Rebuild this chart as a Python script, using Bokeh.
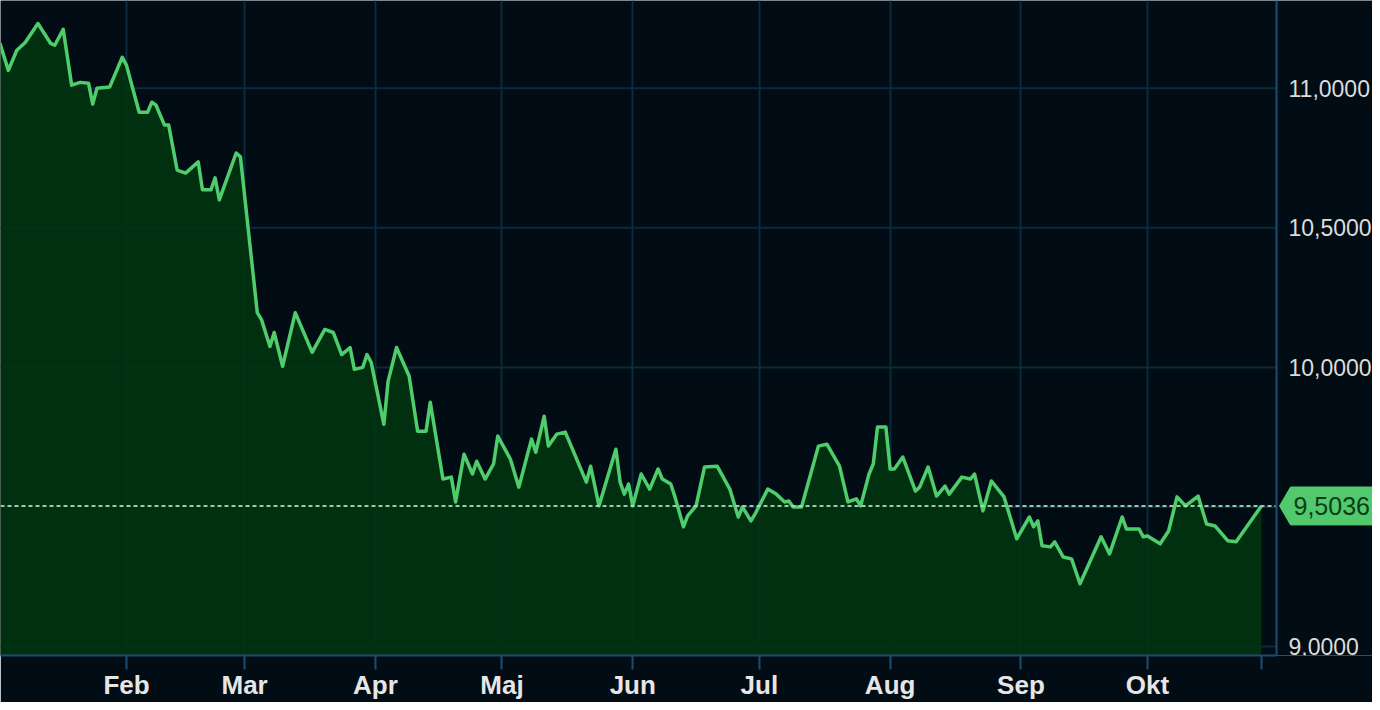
import pandas as pd
from bokeh.plotting import figure
from bokeh.models import FixedTicker, CustomJSTickFormatter, Span
from bokeh.embed import file_html
from bokeh.resources import INLINE
from bokeh.core.properties import value

# ---------------- data ----------------
dates = [
    "2025-01-02", "2025-01-04", "2025-01-06", "2025-01-08", "2025-01-11", "2025-01-14",
    "2025-01-15", "2025-01-17", "2025-01-19", "2025-01-21", "2025-01-23", "2025-01-24",
    "2025-01-25", "2025-01-28", "2025-01-31",
    "2025-02-01", "2025-02-04", "2025-02-06", "2025-02-07", "2025-02-08", "2025-02-10",
    "2025-02-11", "2025-02-13", "2025-02-15", "2025-02-18", "2025-02-19", "2025-02-21",
    "2025-02-22", "2025-02-23", "2025-02-27", "2025-02-28",
    "2025-03-04", "2025-03-05", "2025-03-07", "2025-03-08", "2025-03-10", "2025-03-13",
    "2025-03-17", "2025-03-20", "2025-03-22", "2025-03-24", "2025-03-26", "2025-03-27",
    "2025-03-29", "2025-03-30", "2025-03-31",
    "2025-04-03", "2025-04-04", "2025-04-06", "2025-04-09", "2025-04-11", "2025-04-13",
    "2025-04-14", "2025-04-17", "2025-04-19", "2025-04-20", "2025-04-22", "2025-04-24",
    "2025-04-25", "2025-04-27", "2025-04-29", "2025-04-30",
    "2025-05-03", "2025-05-05", "2025-05-08", "2025-05-09", "2025-05-11", "2025-05-12",
    "2025-05-14", "2025-05-16", "2025-05-21", "2025-05-22", "2025-05-24", "2025-05-28",
    "2025-05-29", "2025-05-30", "2025-05-31",
    "2025-06-01", "2025-06-03", "2025-06-05", "2025-06-07", "2025-06-08", "2025-06-10",
    "2025-06-11", "2025-06-13", "2025-06-14", "2025-06-16", "2025-06-18", "2025-06-21",
    "2025-06-24", "2025-06-26", "2025-06-27", "2025-06-29", "2025-06-30",
    "2025-07-03", "2025-07-05", "2025-07-07", "2025-07-08", "2025-07-09", "2025-07-11",
    "2025-07-15", "2025-07-17", "2025-07-20", "2025-07-22", "2025-07-24", "2025-07-25",
    "2025-07-27", "2025-07-28", "2025-07-29", "2025-07-31",
    "2025-08-01", "2025-08-02", "2025-08-04", "2025-08-07", "2025-08-08", "2025-08-10",
    "2025-08-12", "2025-08-14", "2025-08-15", "2025-08-18", "2025-08-20", "2025-08-21",
    "2025-08-23", "2025-08-25", "2025-08-28", "2025-08-31",
    "2025-09-03", "2025-09-04", "2025-09-05", "2025-09-06", "2025-09-08", "2025-09-09",
    "2025-09-11", "2025-09-13", "2025-09-15", "2025-09-20", "2025-09-22", "2025-09-25",
    "2025-09-26", "2025-09-29", "2025-09-30",
    "2025-10-01", "2025-10-04", "2025-10-06", "2025-10-08", "2025-10-10", "2025-10-13",
    "2025-10-15", "2025-10-17", "2025-10-20", "2025-10-22", "2025-10-28",
]
values = [
    11.161, 11.064, 11.136, 11.164, 11.232, 11.161, 11.154, 11.211, 11.011, 11.021,
    11.018, 10.943, 11.000, 11.004, 11.111,
    11.082, 10.914, 10.914, 10.950, 10.939, 10.868, 10.868, 10.707, 10.696, 10.736,
    10.636, 10.636, 10.679, 10.600, 10.768, 10.754,
    10.196, 10.171, 10.075, 10.125, 10.004, 10.196, 10.054, 10.136, 10.125, 10.046,
    10.071, 9.993, 10.000, 10.046, 10.018,
    9.796, 9.950, 10.071, 9.968, 9.771, 9.771, 9.875, 9.600, 9.607, 9.518,
    9.689, 9.618, 9.664, 9.600, 9.654, 9.754,
    9.671, 9.571, 9.743, 9.696, 9.825, 9.718, 9.761, 9.768, 9.589, 9.646,
    9.504, 9.707, 9.589, 9.546, 9.582,
    9.504, 9.618, 9.564, 9.636, 9.600, 9.582, 9.536, 9.429, 9.468, 9.504,
    9.643, 9.646, 9.564, 9.464, 9.500, 9.450, 9.475,
    9.564, 9.546, 9.518, 9.521, 9.500, 9.500, 9.718, 9.725, 9.646, 9.518,
    9.529, 9.504, 9.618, 9.654, 9.786, 9.786,
    9.636, 9.636, 9.679, 9.557, 9.571, 9.643, 9.539, 9.575, 9.546, 9.607,
    9.600, 9.618, 9.486, 9.593, 9.536, 9.386,
    9.464, 9.429, 9.450, 9.361, 9.357, 9.375, 9.321, 9.314, 9.225, 9.393,
    9.332, 9.464, 9.421, 9.421, 9.393,
    9.396, 9.368, 9.414, 9.536, 9.504, 9.539, 9.439, 9.432, 9.379, 9.375, 9.5036,
]
last_value = 9.5036
last_label = "9,5036"

month_ticks = ["2025-02-01", "2025-03-01", "2025-04-01", "2025-05-01", "2025-06-01",
               "2025-07-01", "2025-08-01", "2025-09-01", "2025-10-01"]
month_labels = ["Feb", "Mar", "Apr", "Maj", "Jun", "Jul", "Aug", "Sep", "Okt"]
end_tick = "2025-10-28"

y_ticks = [9.0, 9.5, 10.0, 10.5, 11.0]
y_labels = ["9,0000", "9,5000", "10,0000", "10,5000", "11,0000"]

# ---------------- styling ----------------
BG = "#020c14"
GRID = "#0a2a3d"
AXIS = "#1b4d72"
LINE = "#4fcd6d"
FILL = "#00340f"
TAG = "#52c96c"
FONT = "Liberation Sans"

W, H = 1372, 702
FRAME_H = 657          # frame spans the full width; the value scale is drawn inside it
PLOT_RIGHT = 1276      # where the chart area ends and the value scale begins

def ms(d):
    return pd.Timestamp(d).value / 1e6

x = [pd.Timestamp(d) for d in dates]

DAY_MS = 86400000.0
px_per_day = 1021.0 / 242.0
ms_per_px = DAY_MS / px_per_day
x_start = ms("2025-02-01") - 126 * ms_per_px
x_end = x_start + W * ms_per_px

px_per_unit = 280.0
y_top = 9.0 + 648.0 / px_per_unit
y_bot = y_top - FRAME_H / px_per_unit

def px_x(canvas_x):
    return x_start + canvas_x * ms_per_px

x_plot_end = px_x(PLOT_RIGHT)

p = figure(width=W, height=H, x_axis_type="datetime", y_axis_location=None,
           x_range=(x_start, x_end), y_range=(y_bot, y_top),
           output_backend="svg", toolbar_location=None,
           min_border_left=0, min_border_top=0, min_border_right=0,
           min_border_bottom=H - FRAME_H)
p.background_fill_color = BG
p.border_fill_color = BG
p.outline_line_color = None

# horizontal grid lines, limited to the chart area
p.ygrid.visible = False
p.segment(x0=[x_start] * len(y_ticks), x1=[x_plot_end] * len(y_ticks),
          y0=y_ticks, y1=y_ticks, line_color=GRID, line_width=2)

# area + line
p.varea(x=x, y1=y_bot, y2=values, fill_color=FILL, fill_alpha=0.9)
p.line(x=x, y=values, line_color=LINE, line_width=3.5, line_join="round")

# last value dashed line
p.segment(x0=[x_start], x1=[x_plot_end], y0=[last_value], y1=[last_value],
          line_color="#a8dcb4", line_width=2, line_dash="4 3", line_alpha=0.9)

# right border of the chart area (value axis line)
p.add_layout(Span(location=x_plot_end, dimension="height", line_color=AXIS,
                  line_width=2))

# x axis
xt = [ms(d) for d in month_ticks] + [ms(end_tick)]
xl = month_labels + [""]
p.xaxis.bounds = (x_start, x_plot_end)
p.xaxis.ticker = FixedTicker(ticks=xt)
p.xaxis.formatter = CustomJSTickFormatter(args=dict(vals=xt, labs=xl), code="""
    const i = vals.findIndex(v => Math.abs(v - tick) < 1000);
    return i >= 0 ? labs[i] : '';
""")
p.xaxis.axis_line_color = AXIS
p.xaxis.axis_line_width = 2
p.xaxis.major_tick_line_color = AXIS
p.xaxis.major_tick_line_width = 2
p.xaxis.major_tick_out = 14
p.xaxis.major_tick_in = 0
p.xaxis.minor_tick_line_color = None
p.xaxis.major_label_text_font = FONT
p.xaxis.major_label_text_font_style = "bold"
p.xaxis.major_label_text_font_size = "26px"
p.xaxis.major_label_text_color = "#e6e6e6"
p.xaxis.major_label_standoff = 0

# vertical grid at month starts
p.xgrid.ticker = FixedTicker(ticks=[ms(d) for d in month_ticks])
p.xgrid.grid_line_color = GRID
p.xgrid.grid_line_width = 2

# value scale texts (9,5000 is covered by the value tag)
shown = [(tv, tl) for tv, tl in zip(y_ticks, y_labels) if abs(tv - last_value) > 0.05]
p.text(x=[px_x(1288)] * len(shown), y=[s[0] for s in shown], text=[s[1] for s in shown],
       text_font=value(FONT), text_font_size="23px", text_color="#dcdcdc",
       text_baseline="middle", text_align="left")

# value tag
half = 19.0 / px_per_unit
p.patch(x=[px_x(1279), px_x(1290), px_x(1400), px_x(1400), px_x(1290)],
        y=[last_value, last_value + half, last_value + half,
           last_value - half, last_value - half],
        fill_color=TAG, line_color=TAG)
p.text(x=[px_x(1293)], y=[last_value], text=[last_label],
       text_font=value(FONT), text_font_size="25px", text_color="#0b3d18",
       text_baseline="middle", text_align="left")

html = file_html(p, INLINE)
html = html.replace("<body>", '<body style="background-color:#020c14;">', 1)
open("out.html", "w").write(html)
